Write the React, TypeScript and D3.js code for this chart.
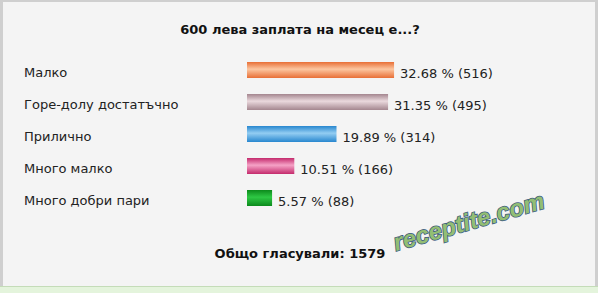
import React from "react";
import * as d3 from "d3";

const title = "600 лева заплата на месец е...?";
const answers = ["Малко", "Горе-долу достатъчно", "Прилично", "Много малко", "Много добри пари"];
const percents = [32.68, 31.35, 19.89, 10.51, 5.57];
const votes = [516, 495, 314, 166, 88];
const totalVotes = 1579;
const barEdge = ["#e86f36", "#a4868f", "#2887cf", "#c42a6c", "#0c8a1c"];
const barMid = ["#fcc6a0", "#ead9dd", "#93cdf2", "#f5a2c6", "#2ec844"];

const W = 598;
const H = 293;
const font = "'DejaVu Sans', Verdana, sans-serif";

export default function App() {
  const x = d3.scaleLinear().domain([0, 100]).range([0, 450]);
  const y = d3.scaleBand<number>().domain(d3.range(answers.length)).range([54, 214]).paddingInner(0.5).paddingOuter(0.25);
  const barX = 247;
  const barH = 16;

  return (
    <svg width={W} height={H} style={{ position: "absolute", left: 0, top: 0 }}>
      <defs>
        {answers.map((_, i) => (
          <linearGradient key={i} id={`g${i}`} x1="0" y1="0" x2="0" y2="1">
            <stop offset="0" stopColor={barEdge[i]} />
            <stop offset="0.45" stopColor={barMid[i]} />
            <stop offset="1" stopColor={barEdge[i]} />
          </linearGradient>
        ))}
      </defs>
      <rect x={0} y={0} width={W} height={H} fill="#cfcfcf" />
      <rect x={0} y={287} width={W} height={6} fill="#e4f4dc" />
      <rect x={0} y={286} width={W} height={1} fill="#c4dcb8" />
      <rect x={3} y={2} width={592} height={284} fill="#f4f4f4" />
      <text x={300} y={34} textAnchor="middle" fontFamily={font} fontWeight="bold" fontSize={13} fill="#111">
        {title}
      </text>
      {answers.map((a, i) => {
        const cy = (y(i) as number) + y.bandwidth() / 2;
        const w = x(percents[i]);
        return (
          <g key={a}>
            <text x={24} y={cy + 7} fontFamily={font} fontSize={13} fill="#222">
              {a}
            </text>
            <rect x={barX} y={cy - barH / 2} width={w} height={barH} fill={`url(#g${i})`} />
            <text x={barX + w + 6} y={cy + 8} fontFamily={font} fontSize={13} fill="#222">
              {`${percents[i].toFixed(2)} % (${votes[i]})`}
            </text>
          </g>
        );
      })}
      <text x={300} y={258} textAnchor="middle" fontFamily={font} fontWeight="bold" fontSize={13} fill="#111">
        {`Общо гласували: ${totalVotes}`}
      </text>
      <text
        x={0}
        y={0}
        transform="translate(396,251) rotate(-16)"
        fontFamily="'Liberation Sans', Arial, sans-serif"
        fontWeight="bold"
        fontStyle="italic"
        fontSize={24}
        fill="#93be74"
        stroke="#3d5c80"
        strokeWidth={1.6}
        paintOrder="stroke"
      >
        receptite.com
      </text>
    </svg>
  );
}
